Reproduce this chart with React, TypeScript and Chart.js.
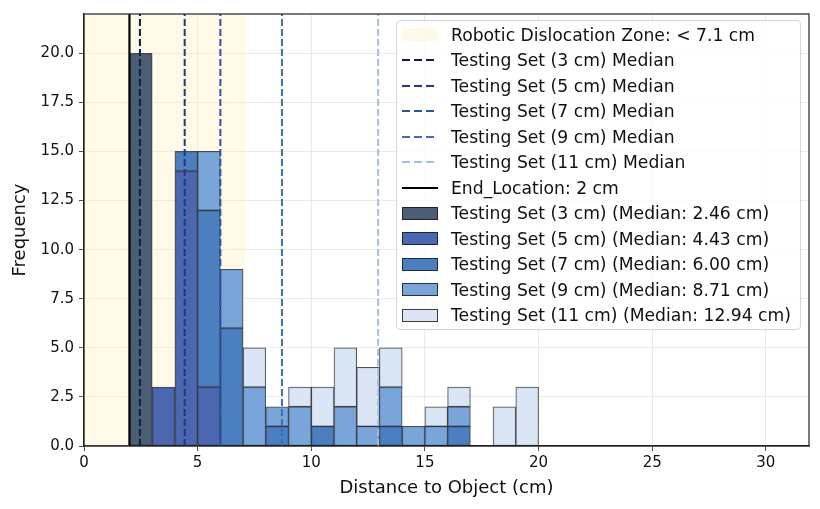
import React, { useEffect, useRef } from "react";
import { Chart, registerables } from "chart.js";

Chart.register(...registerables);

// histogram bins (left edges, width 1 cm)
const binStarts = [2, 3, 4, 5, 6, 7, 8, 9, 10, 11, 12, 13, 14, 15, 16, 17, 18, 19];
const counts3 = [20, 0, 0, 0, 0, 0, 0, 0, 0, 0, 0, 0, 0, 0, 0, 0, 0, 0];
const counts5 = [0, 3, 14, 3, 0, 0, 0, 0, 0, 0, 0, 0, 0, 0, 0, 0, 0, 0];
const counts7 = [0, 0, 1, 9, 6, 0, 1, 0, 1, 0, 0, 1, 0, 0, 1, 0, 0, 0];
const counts9 = [0, 0, 0, 3, 3, 3, 1, 2, 0, 2, 1, 2, 1, 1, 1, 0, 0, 0];
const counts11 = [0, 0, 0, 0, 0, 2, 0, 1, 2, 3, 3, 2, 0, 1, 1, 0, 2, 3];

const seriesCounts = [counts3, counts5, counts7, counts9, counts11];
const seriesLabels = [
  "Testing Set (3 cm) (Median: 2.46 cm)",
  "Testing Set (5 cm) (Median: 4.43 cm)",
  "Testing Set (7 cm) (Median: 6.00 cm)",
  "Testing Set (9 cm) (Median: 8.71 cm)",
  "Testing Set (11 cm) (Median: 12.94 cm)",
];
const barColors = [
  "rgba(55, 76, 102, 0.9)",
  "rgba(54, 87, 169, 0.9)",
  "rgba(57, 113, 187, 0.9)",
  "rgba(107, 155, 214, 0.9)",
  "rgba(214, 227, 244, 0.9)",
];

const medians = [2.46, 4.43, 6.0, 8.71, 12.94];
const medianLabels = [
  "Testing Set (3 cm) Median",
  "Testing Set (5 cm) Median",
  "Testing Set (7 cm) Median",
  "Testing Set (9 cm) Median",
  "Testing Set (11 cm) Median",
];
const medianColors = ["#0f1e3c", "#28377d", "#2a55a5", "#3c6dbe", "#a5bee4"];

const zoneEnd = 7.1;
const zoneLabel = "Robotic Dislocation Zone: < 7.1 cm";
const zoneColor = "rgba(255, 236, 179, 0.3)";
const endLocation = 2;
const endLabel = "End_Location: 2 cm";

const yMax = 22;
const xMax = 31.9;

const FONT = "'DejaVu Sans', sans-serif";

const framePlugin = {
  id: "frame",
  afterDatasetsDraw(chart: any) {
    const { ctx, chartArea } = chart;
    ctx.save();
    ctx.strokeStyle = "#222";
    ctx.lineWidth = 1.2;
    ctx.strokeRect(
      chartArea.left,
      chartArea.top,
      chartArea.right - chartArea.left,
      chartArea.bottom - chartArea.top
    );
    ctx.restore();
  },
};

const LegendBox: React.FC = () => {
  const rows: { label: string; kind: "zone" | "dash" | "solid" | "bar"; color: string }[] = [
    { label: zoneLabel, kind: "zone", color: zoneColor },
    ...medianLabels.map((l, i) => ({ label: l, kind: "dash" as const, color: medianColors[i] })),
    { label: endLabel, kind: "solid", color: "#000" },
    ...seriesLabels.map((l, i) => ({ label: l, kind: "bar" as const, color: barColors[i] })),
  ];
  return (
    <div
      style={{
        position: "absolute",
        left: 396,
        top: 20,
        width: 405,
        height: 310,
        boxSizing: "border-box",
        border: "1px solid #d4d4d4",
        borderRadius: 4,
        background: "rgba(255,255,255,0.8)",
        paddingTop: 1,
        fontFamily: FONT,
        fontSize: 17.2,
        color: "#111",
      }}
    >
      {rows.map((r) => {
        let handle: React.CSSProperties;
        if (r.kind === "zone") {
          handle = { width: 36, height: 13, background: r.color };
        } else if (r.kind === "bar") {
          handle = {
            width: 34,
            height: 11,
            background: r.color,
            border: "1px solid rgba(20,20,20,0.8)",
          };
        } else if (r.kind === "dash") {
          handle = {
            width: 36,
            height: 2,
            background: `repeating-linear-gradient(90deg, ${r.color} 0 8px, transparent 8px 12px)`,
          };
        } else {
          handle = { width: 36, height: 2, background: r.color };
        }
        return (
          <div
            key={r.label}
            style={{ height: 25.5, display: "flex", alignItems: "center", whiteSpace: "nowrap" }}
          >
            <div style={{ marginLeft: 5, flex: "none", ...handle }} />
            <span style={{ marginLeft: 13 }}>{r.label}</span>
          </div>
        );
      })}
    </div>
  );
};

const App: React.FC = () => {
  const canvasRef = useRef<HTMLCanvasElement>(null);
  const chartRef = useRef<Chart | null>(null);

  useEffect(() => {
    document.body.style.margin = "0";
    if (!canvasRef.current) return;
    if (chartRef.current) chartRef.current.destroy();

    const datasets: any[] = [
      {
        type: "line",
        label: zoneLabel,
        data: [
          { x: 0, y: yMax },
          { x: zoneEnd, y: yMax },
        ],
        fill: "origin",
        backgroundColor: zoneColor,
        borderWidth: 0,
        pointRadius: 0,
        stack: "zone",
        order: 10,
      },
      ...medians.map((m, i) => ({
        type: "line",
        label: medianLabels[i],
        data: [
          { x: m, y: 0 },
          { x: m, y: yMax },
        ],
        borderColor: medianColors[i],
        borderWidth: 2,
        borderDash: [7, 3],
        pointRadius: 0,
        fill: false,
        stack: "median" + i,
        order: 1,
      })),
      {
        type: "line",
        label: endLabel,
        data: [
          { x: endLocation, y: 0 },
          { x: endLocation, y: yMax },
        ],
        borderColor: "#000",
        borderWidth: 2.2,
        pointRadius: 0,
        fill: false,
        stack: "end",
        order: 1,
      },
      ...seriesCounts.map((counts, i) => ({
        type: "bar",
        label: seriesLabels[i],
        data: binStarts.map((b, j) => ({ x: b + 0.5, y: counts[j] || null })),
        backgroundColor: barColors[i],
        borderColor: "rgba(20,20,20,0.75)",
        borderWidth: 1,
        borderSkipped: false,
        barPercentage: 1,
        categoryPercentage: 1,
        order: 5,
      })),
    ];

    chartRef.current = new Chart(canvasRef.current, {
      type: "bar",
      data: { datasets },
      options: {
        responsive: false,
        animation: false,
        layout: { padding: { top: 12, right: 11, left: 0, bottom: 0 } },
        plugins: {
          legend: { display: false },
          tooltip: { enabled: false },
        },
        scales: {
          x: {
            type: "linear",
            min: 0,
            max: xMax,
            stacked: true,
            offset: false,
            afterFit: (s: any) => {
              s.height = 63;
            },
            grid: {
              offset: false,
              color: "#e4e4e4",
              lineWidth: 0.8,
              tickColor: "#222",
              tickLength: 5,
            },
            border: { color: "#222", width: 1.2 },
            ticks: {
              stepSize: 5,
              includeBounds: false,
              color: "#111",
              padding: 3,
              maxRotation: 0,
              font: { family: FONT, size: 15 },
              callback: (v: any) => String(v),
            },
            title: {
              display: true,
              text: "Distance to Object (cm)",
              color: "#111",
              padding: { top: 0, bottom: 10 },
              font: { family: FONT, size: 18 },
            },
          },
          y: {
            min: 0,
            max: yMax,
            stacked: true,
            afterFit: (s: any) => {
              s.width = 84;
            },
            grid: {
              color: "#e4e4e4",
              lineWidth: 0.8,
              tickColor: "#222",
              tickLength: 5,
            },
            border: { color: "#222", width: 1.2 },
            ticks: {
              stepSize: 2.5,
              includeBounds: false,
              color: "#111",
              padding: 5,
              font: { family: FONT, size: 15 },
              callback: (v: any) => Number(v).toFixed(1),
            },
            title: {
              display: true,
              text: "Frequency",
              color: "#111",
              padding: { top: 10, bottom: 0 },
              font: { family: FONT, size: 18 },
            },
          },
        },
      } as any,
      plugins: [framePlugin],
    });

    return () => {
      if (chartRef.current) {
        chartRef.current.destroy();
        chartRef.current = null;
      }
    };
  }, []);

  return (
    <div style={{ position: "relative", width: 820, height: 509, background: "#fff" }}>
      <canvas ref={canvasRef} width={820} height={509} />
      <LegendBox />
    </div>
  );
};

export default App;
